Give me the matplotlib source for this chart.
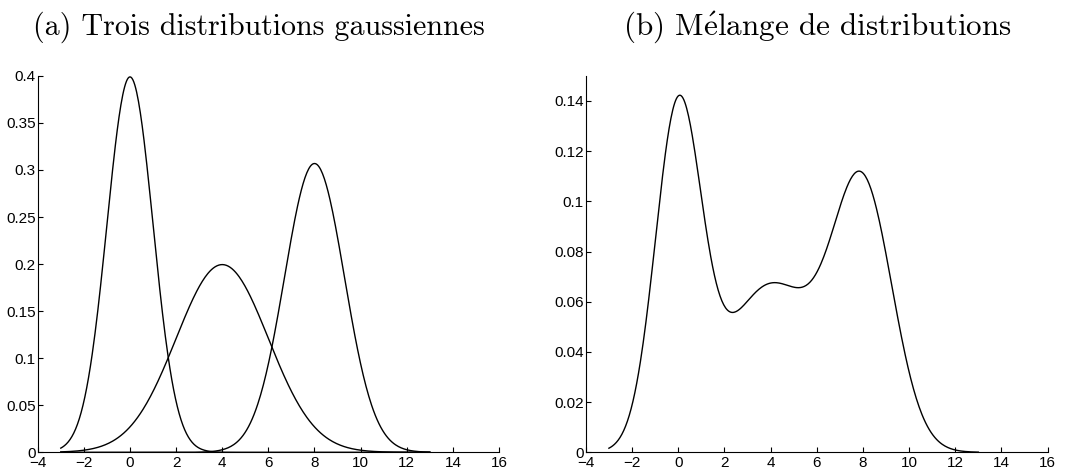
import matplotlib
matplotlib.use("Agg")
import matplotlib.pyplot as plt
import numpy as np

plt.rcParams["mathtext.fontset"] = "cm"

# Paramètres des trois gaussiennes et poids du mélange
means = [0.0, 4.0, 8.0]
sigmas = [1.0, 2.0, 1.3]
weights = [1 / 3, 1 / 3, 1 / 3]
x_range = [-3.0, 13.0]

titles = ["(a) Trois distributions gaussiennes",
          "(b) M$\\acute{\\mathrm{e}}$lange de distributions"]
xticks = [-4, -2, 0, 2, 4, 6, 8, 10, 12, 14, 16]
yticks_a = [0, 0.05, 0.1, 0.15, 0.2, 0.25, 0.3, 0.35, 0.4]
yticks_b = [0, 0.02, 0.04, 0.06, 0.08, 0.1, 0.12, 0.14]


def gauss(x, m, s):
    return np.exp(-0.5 * ((x - m) / s) ** 2) / (s * np.sqrt(2 * np.pi))


x = np.linspace(x_range[0], x_range[1], 400)
pdfs = [gauss(x, m, s) for m, s in zip(means, sigmas)]
mix = sum(w * p for w, p in zip(weights, pdfs))

fig = plt.figure(figsize=(10.69, 4.67), dpi=100)
ax1 = fig.add_axes([0.0353, 0.0315, 0.4315, 0.806])
ax2 = fig.add_axes([0.548, 0.0315, 0.432, 0.806])

for p in pdfs:
    ax1.plot(x, p, color="black", lw=1.0)
ax2.plot(x, mix, color="black", lw=1.0)

ax1.set_ylim(0, 0.4)
ax2.set_ylim(0, 0.15)
ax1.set_yticks(yticks_a)
ax1.set_yticklabels(["0", "0.05", "0.1", "0.15", "0.2", "0.25", "0.3", "0.35", "0.4"],
                    fontsize=11, family="Liberation Sans")
ax2.set_yticks(yticks_b)
ax2.set_yticklabels(["0", "0.02", "0.04", "0.06", "0.08", "0.1", "0.12", "0.14"],
                    fontsize=11, family="Liberation Sans")

for ax in (ax1, ax2):
    ax.set_xlim(-4, 16)
    ax.set_xticks(xticks)
    ax.set_xticklabels([str(v).replace("-", "\u2212") for v in xticks],
                       fontsize=11, family="Liberation Sans")
    ax.spines["top"].set_visible(False)
    ax.spines["right"].set_visible(False)
    for sp in ("left", "bottom"):
        ax.spines[sp].set_linewidth(0.8)
    ax.tick_params(direction="in", length=3.5, width=0.8)
    ax.tick_params(axis="x", pad=3)
    ax.tick_params(axis="y", pad=1.5)

# titres en police Computer Modern
fig.text(0.2423, 0.942, titles[0], fontsize=21.6, family="cmr10",
         ha="center", va="center")
fig.text(0.7647, 0.942, titles[1], fontsize=22.4, family="cmr10",
         ha="center", va="center")

fig.savefig("out.png", dpi=100)
